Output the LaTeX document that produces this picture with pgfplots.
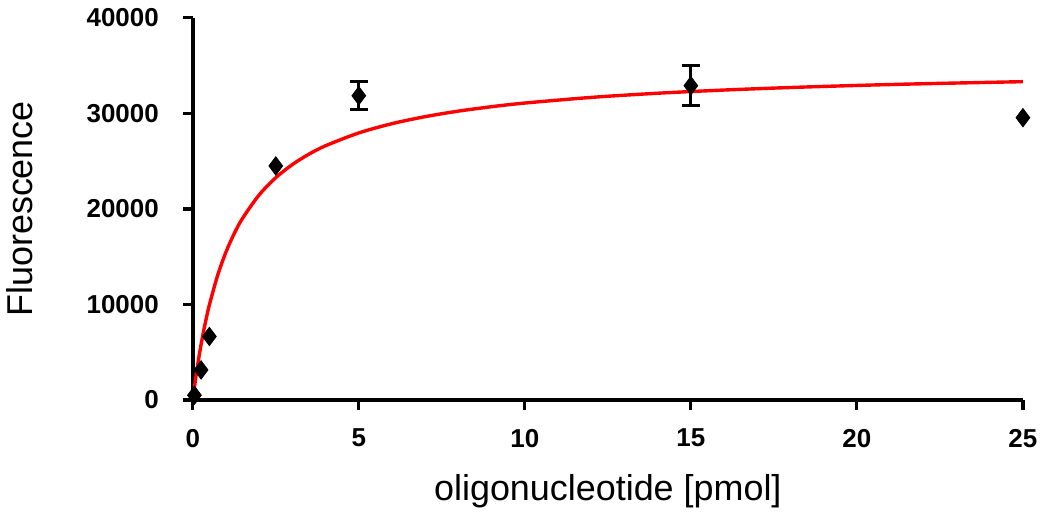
\documentclass[border=0pt]{standalone}
\usepackage{pgfplots}
\pgfplotsset{compat=1.18}
\usepackage{fontspec}
\setmainfont{Liberation Sans}

\begin{document}
\begin{tikzpicture}
  \begin{axis}[
      scale only axis,
      width=416pt, height=191.5pt,
      xmin=0, xmax=25,
      ymin=0, ymax=40000,
      axis lines=left,
      axis line style={-, line width=2pt},
      tick align=outside,
      tick style={black, line width=1.6pt},
      major tick length=5pt,
      xtick={0,5,10,15,20,25},
      ytick={0,10000,20000,30000,40000},
      scaled y ticks=false,
      /pgf/number format/assume math mode=true,
      /pgf/number format/set thousands separator={},
      tick label style={font=\fontsize{13}{15}\selectfont\bfseries},
      xticklabel style={yshift=-6pt},
      yticklabel style={xshift=-8.5pt},
      xlabel={oligonucleotide [pmol]},
      ylabel={Fluorescence},
      label style={font=\fontsize{18}{21}\selectfont},
      xlabel style={yshift=-6.5pt},
      ylabel style={yshift=20pt},
      title={\vphantom{X}},
      title style={font=\fontsize{4}{4}\selectfont, inner sep=0pt},
      clip=false,
    ]
    % fitted binding curve
    \addplot[red, line width=1.7pt, smooth, mark=none] coordinates {
      (0,0) (0.1,2574) (0.2,4795) (0.3,6731) (0.4,8434) (0.5,9943)
      (0.75,13060) (1,15487) (1.25,17430) (1.5,19022) (2,21472)
      (2.5,23271) (3,24648) (3.5,25735) (4,26616) (5,27955) (6,28926)
      (7,29661) (8,30238) (9,30702) (10,31083) (12,31674) (14,32110)
      (16,32445) (18,32710) (20,32926) (22,33104) (25,33321)
    };
    % measured points
    \addplot[only marks, mark=diamond*, mark size=4.6pt, black] coordinates {
      (0.05,500) (0.25,3150) (0.5,6650) (2.5,24500) (25,29550)
    };
    \addplot[only marks, mark=diamond*, mark size=4.6pt, black,
      error bars/.cd, y dir=both, y explicit,
      error bar style={line width=1.5pt},
      error mark options={rotate=90, mark size=4.5pt, line width=1.5pt}]
      coordinates {
      (5,31850) +- (0,1470)
      (15,32900) +- (0,2100)
    };
  \end{axis}
\end{tikzpicture}
\end{document}
